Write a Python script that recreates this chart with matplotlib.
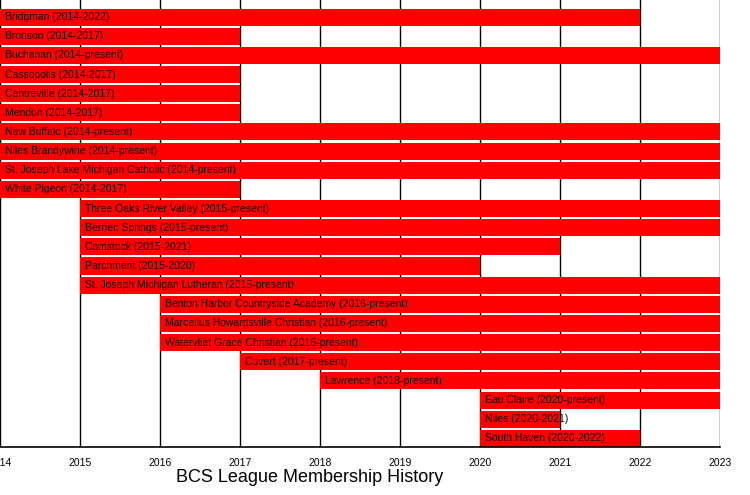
import numpy as np
from matplotlib import pyplot as plt

schools = ['Bridgman', 'Bronson', 'Buchanan', 'Cassopolis', 'Centreville', 'Mendon',
           'New Buffalo', 'Niles Brandywine', 'St. Joseph Lake Michigan Catholic',
           'White Pigeon', 'Three Oaks River Valley', 'Berrien Springs', 'Comstock',
           'Parchment', 'St. Joseph Michigan Lutheran', 'Benton Harbor Countryside Academy',
           'Marcellus Howardsville Christian', 'Watervliet Grace Christian', 'Covert',
           'Lawrence', 'Eau Claire', 'Niles', 'South Haven']
joined = [2014, 2014, 2014, 2014, 2014, 2014, 2014, 2014, 2014, 2014,
          2015, 2015, 2015, 2015, 2015, 2016, 2016, 2016, 2017, 2018, 2020, 2020, 2020]
# None means still a member
left = [2022, 2017, None, 2017, 2017, 2017, None, None, None, 2017,
        None, None, 2021, 2020, None, None, None, None, None, None, None, 2021, 2022]
years = list(range(2014, 2024))
present_year = 2023

plt.rcParams['font.family'] = ['Liberation Sans', 'DejaVu Sans']

fig = plt.figure(figsize=(7.5, 4.95), dpi=100)
ax = fig.add_axes([0.0, 1 - 447 / 495, 720 / 750, 447 / 495])

for x in years:
    ax.axvline(x, color='black', linewidth=1, zorder=1)

for i, name in enumerate(schools):
    end = left[i] if left[i] is not None else present_year
    end_txt = str(left[i]) if left[i] is not None else 'present'
    ax.barh(i, end - joined[i], left=joined[i], height=0.89, color='#ff0000', zorder=2)
    ax.text(joined[i] + 0.06, i, '%s (%d-%s)' % (name, joined[i], end_txt),
            va='center', ha='left', fontsize=7.5, color='#1a0000', zorder=3)

ax.set_xlim(2014, 2023)
ax.set_ylim(len(schools) - 1 + 0.45, -0.89)
ax.set_xticks(years)
ax.set_xticklabels([str(y) for y in years], fontsize=7.5)
ax.tick_params(axis='x', length=0, pad=8)
ax.set_yticks([])
for s in ['top', 'left', 'right']:
    ax.spines[s].set_visible(False)
ax.spines['bottom'].set_linewidth(1.2)

fig.text(310 / 750, 1 - 478 / 495, 'BCS League Membership History', ha='center', va='center', fontsize=13)

plt.savefig('out.png', dpi=100)
